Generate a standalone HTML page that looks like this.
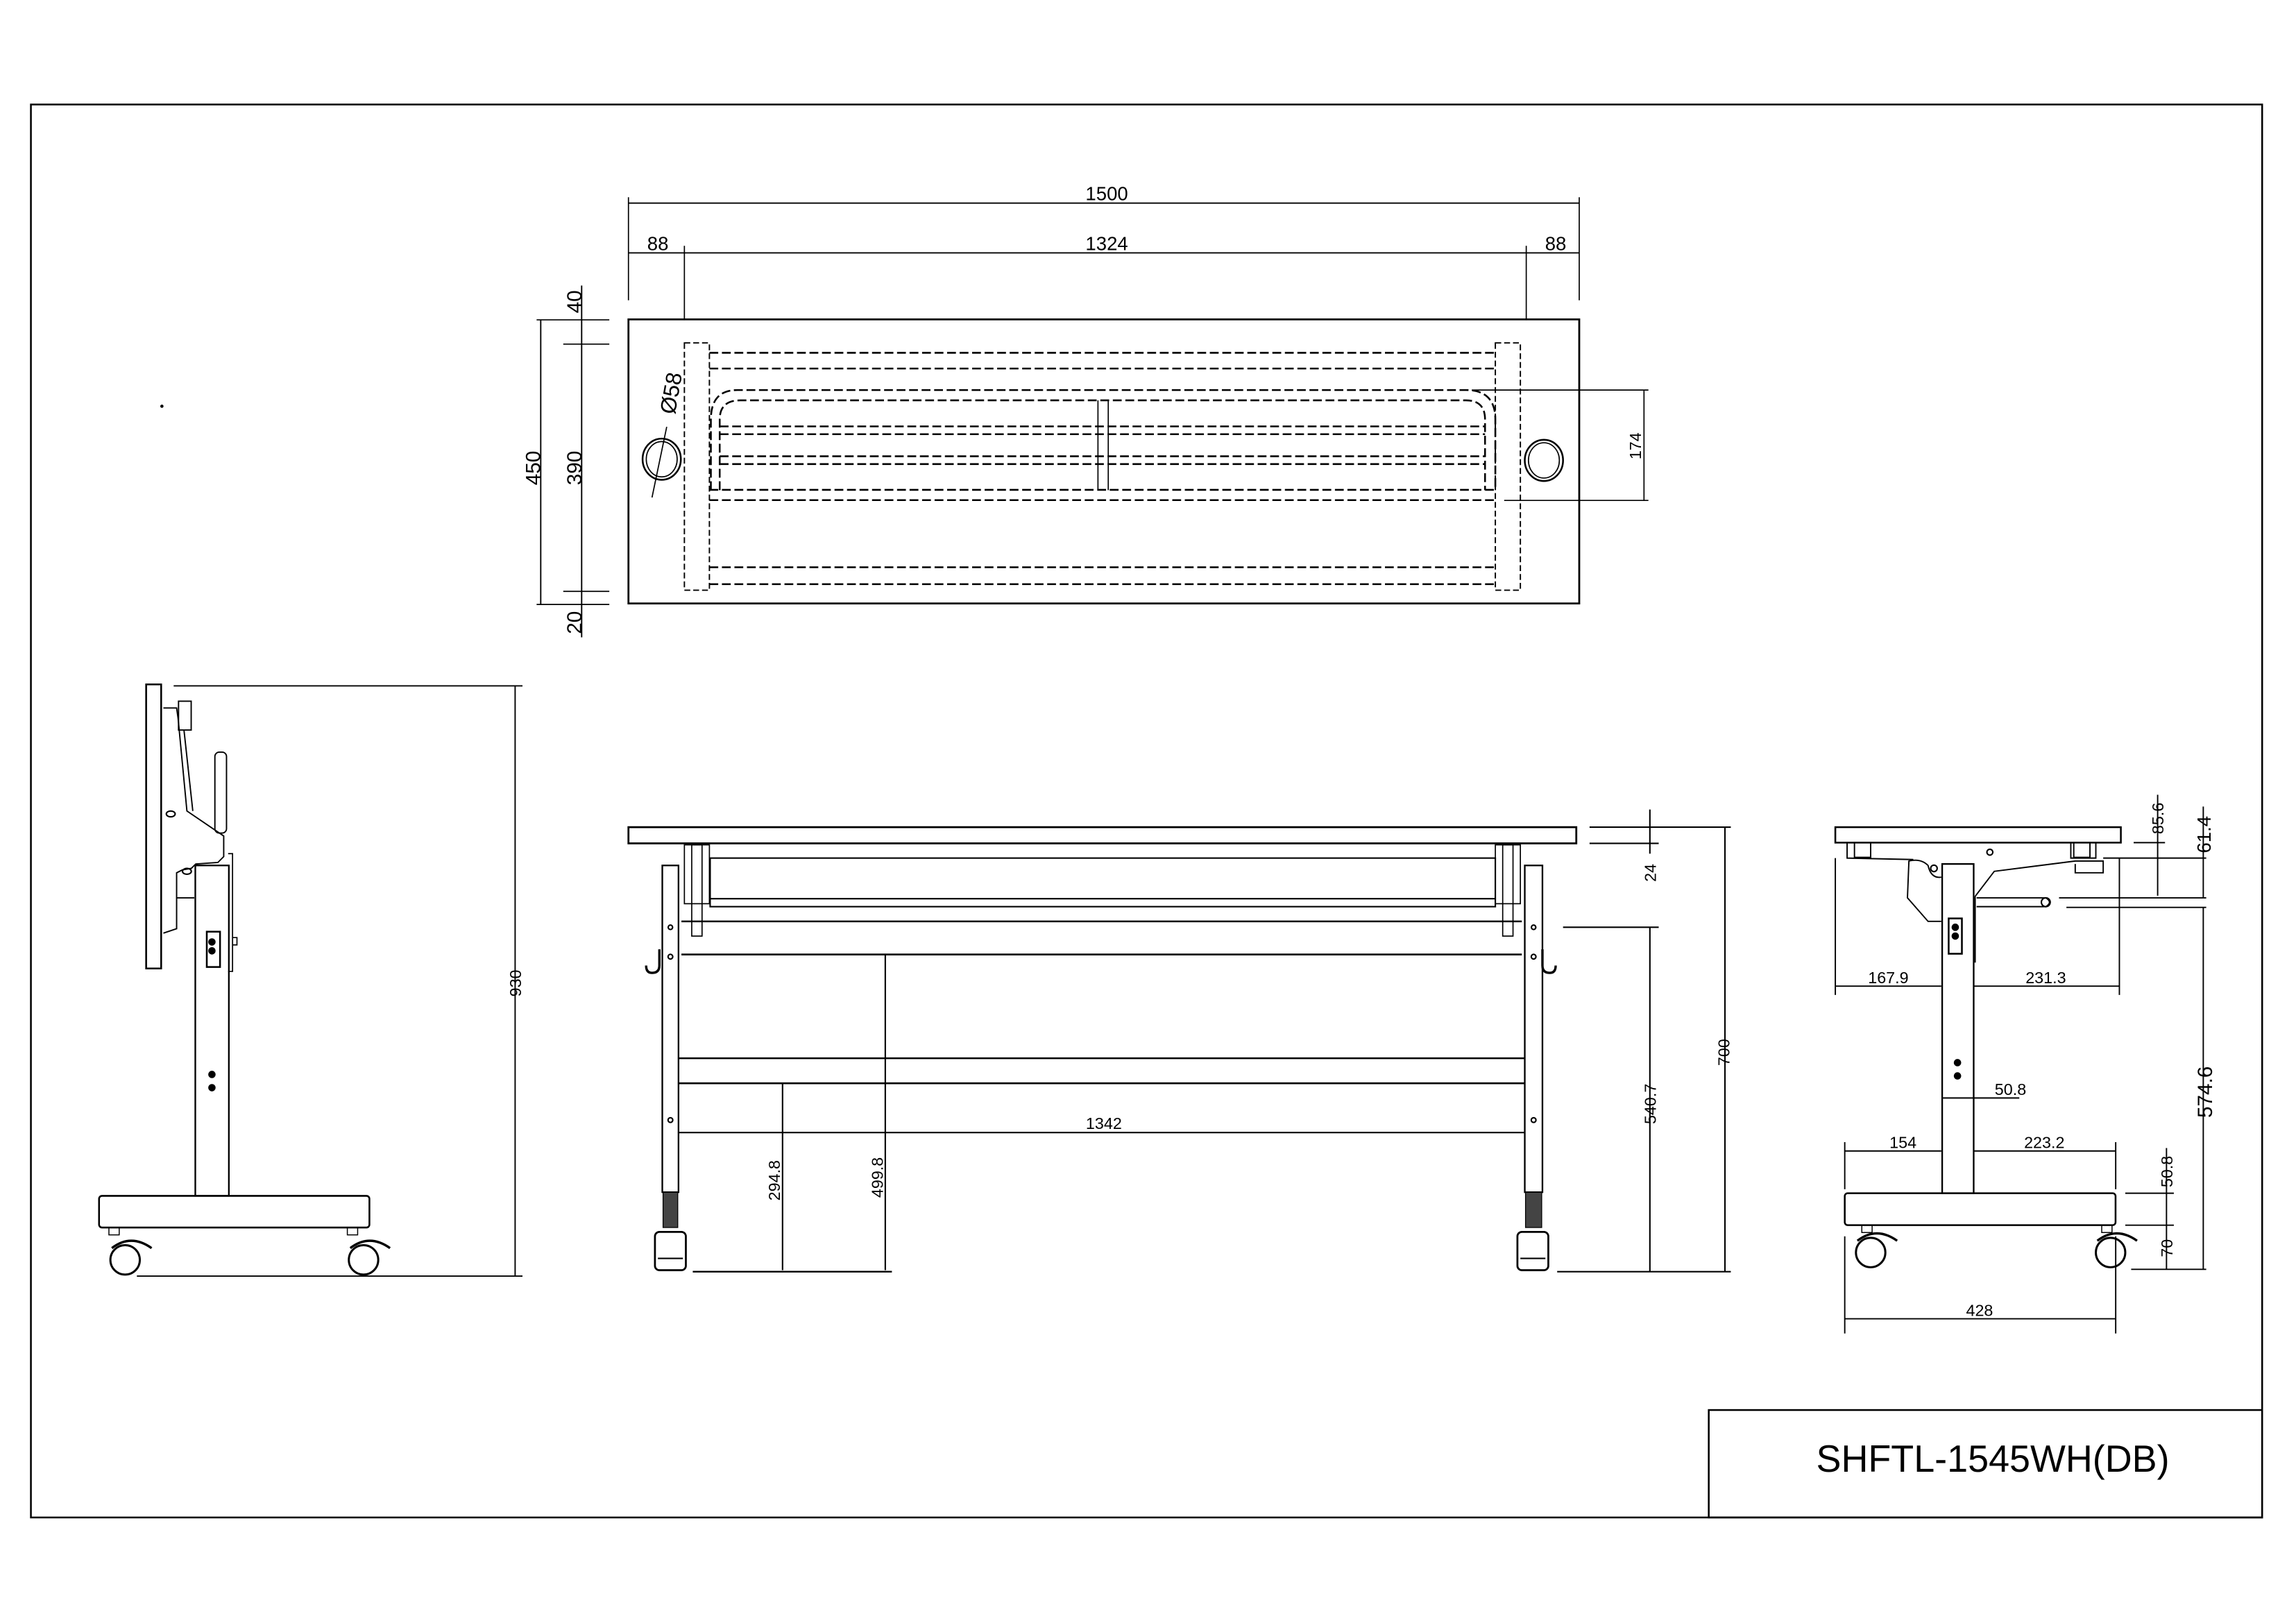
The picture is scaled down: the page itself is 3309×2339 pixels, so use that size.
<!DOCTYPE html>
<html><head><meta charset="utf-8"><style>html,body{margin:0;padding:0;background:#fff}svg{display:block}</style></head>
<body>
<svg width="3309" height="2339" viewBox="0 0 1560 1102.7" preserveAspectRatio="none" xmlns="http://www.w3.org/2000/svg" font-family="Liberation Sans, sans-serif">
<g fill="none" stroke="#000" stroke-width="1">
<!-- border -->
<rect x="21" y="71" width="1516" height="960" stroke-width="1.2"/>
<rect x="1161" y="958" width="376" height="73" stroke-width="1.2"/>

<!-- ===== TOP VIEW ===== -->
<rect x="427" y="217" width="646" height="193" stroke-width="1.3"/>
<g stroke-dasharray="4,2" stroke-width="0.9">
<rect x="465" y="233" width="17" height="168"/>
<rect x="1016" y="233" width="17" height="168"/>
</g>
<g stroke-dasharray="6,2.5" stroke-width="1.2">
<line x1="482" y1="239.7" x2="1016" y2="239.7"/>
<line x1="482" y1="250.4" x2="1016" y2="250.4"/>
<line x1="489" y1="289.7" x2="1009" y2="289.7"/>
<line x1="489" y1="295" x2="1009" y2="295"/>
<line x1="489" y1="310" x2="1009" y2="310"/>
<line x1="489" y1="315.3" x2="1009" y2="315.3"/>
<line x1="482" y1="332.8" x2="1016" y2="332.8"/>
<line x1="482" y1="339.8" x2="1016" y2="339.8"/>
<line x1="482" y1="385.4" x2="1016" y2="385.4"/>
<line x1="482" y1="396.9" x2="1016" y2="396.9"/>
<path d="M483,333 L483,285 Q483,265 501,265 L996,265 Q1016,265 1016,285 L1016,333"/>
<path d="M489,333 L489,285 Q489,272 503,272 L996,272 Q1009,272 1009,285 L1009,333"/>
</g>
<line x1="746" y1="272" x2="746" y2="333" stroke-width="0.8"/>
<line x1="753" y1="272" x2="753" y2="333" stroke-width="0.8"/>
<ellipse cx="449.6" cy="312" rx="13" ry="14" stroke-width="1.2"/>
<ellipse cx="449.6" cy="312" rx="10.5" ry="12" stroke-width="0.8"/>
<ellipse cx="1049" cy="312.8" rx="13" ry="14" stroke-width="1.2"/>
<ellipse cx="1049" cy="312.8" rx="10.5" ry="12" stroke-width="0.8"/>
<line x1="443" y1="338" x2="453" y2="290" stroke-width="0.8"/>
<!-- 174 -->
<line x1="1000" y1="265" x2="1120" y2="265" stroke-width="0.8"/>
<line x1="1022" y1="340" x2="1120" y2="340" stroke-width="0.8"/>
<line x1="1117" y1="265" x2="1117" y2="340" stroke-width="0.8"/>
<!-- top dims -->
<line x1="427" y1="134" x2="427" y2="204" stroke-width="0.8"/>
<line x1="1073" y1="134" x2="1073" y2="204" stroke-width="0.8"/>
<line x1="465" y1="167" x2="465" y2="217" stroke-width="0.8"/>
<line x1="1037" y1="167" x2="1037" y2="217" stroke-width="0.8"/>
<line x1="427" y1="138" x2="1073" y2="138" stroke-width="0.9"/>
<line x1="427" y1="171.8" x2="1073" y2="171.8" stroke-width="0.9"/>
<!-- left dims -->
<line x1="367.4" y1="217.3" x2="367.4" y2="410.7" stroke-width="0.9"/>
<line x1="395.2" y1="194" x2="395.2" y2="433" stroke-width="0.9"/>
<line x1="364.6" y1="217.3" x2="414" y2="217.3" stroke-width="0.8"/>
<line x1="382.7" y1="233.8" x2="414" y2="233.8" stroke-width="0.8"/>
<line x1="382.7" y1="401.8" x2="414" y2="401.8" stroke-width="0.8"/>
<line x1="364.6" y1="410.7" x2="414" y2="410.7" stroke-width="0.8"/>

<!-- ===== FRONT VIEW ===== -->
<rect x="427" y="562" width="644" height="11" stroke-width="1.3"/>
<rect x="482.5" y="583" width="533.5" height="33" stroke-width="1"/>
<line x1="482.5" y1="610.6" x2="1016" y2="610.6"/>
<line x1="463" y1="626" x2="1034" y2="626" stroke-width="1.2"/>
<line x1="463" y1="648.5" x2="1034" y2="648.5" stroke-width="1.2"/>
<!-- brackets -->
<g stroke-width="0.8">
<rect x="465" y="574" width="17" height="40"/><rect x="470" y="574" width="7" height="62"/>
<rect x="1016" y="574" width="17" height="40"/><rect x="1021" y="574" width="7" height="62"/>
</g>
<!-- legs -->
<rect x="450" y="588" width="11" height="222" stroke-width="1.1"/>
<rect x="1036" y="588" width="12" height="222" stroke-width="1.1"/>
<rect x="450.5" y="810" width="10" height="24" fill="#444" stroke-width="0.6"/>
<rect x="1036.5" y="810" width="11" height="24" fill="#444" stroke-width="0.6"/>
<rect x="445" y="837" width="21" height="26" rx="3" stroke-width="1.3"/>
<rect x="1031" y="837" width="21" height="26" rx="3" stroke-width="1.3"/>
<line x1="447" y1="855" x2="464" y2="855"/><line x1="1033" y1="855" x2="1050" y2="855"/>
<circle cx="455.5" cy="630" r="1.5"/><circle cx="455.5" cy="650" r="1.6"/><circle cx="455.5" cy="761" r="1.6"/>
<circle cx="1042" cy="630" r="1.5"/><circle cx="1042" cy="650" r="1.6"/><circle cx="1042" cy="761" r="1.6"/>
<path d="M448,645 L448,656 Q448,661 443,661 Q439,661 439,656" stroke-width="1.6"/>
<path d="M1048,645 L1048,656 Q1048,661 1053,661 Q1057,661 1057,656" stroke-width="1.6"/>
<!-- stretcher -->
<line x1="461" y1="719" x2="1036" y2="719" stroke-width="1.2"/>
<line x1="461" y1="736" x2="1036" y2="736" stroke-width="1.2"/>
<!-- front dims -->
<line x1="461" y1="769.5" x2="1036" y2="769.5" stroke-width="1"/>
<line x1="531.7" y1="736" x2="531.7" y2="863"/>
<line x1="601.5" y1="648.5" x2="601.5" y2="863"/>
<line x1="470.7" y1="864" x2="606" y2="864" stroke-width="1.1"/>
<line x1="1058" y1="864" x2="1176" y2="864" stroke-width="1"/>
<line x1="1062" y1="630" x2="1127" y2="630"/>
<line x1="1080" y1="562" x2="1176" y2="562"/>
<line x1="1080" y1="573" x2="1127" y2="573"/>
<line x1="1121" y1="550" x2="1121" y2="580"/>
<line x1="1121" y1="630" x2="1121" y2="864"/>
<line x1="1172" y1="562" x2="1172" y2="864"/>

<!-- ===== RIGHT SIDE VIEW ===== -->
<rect x="1247" y="562" width="194" height="10.5" stroke-width="1.2"/>
<path d="M1255,572.5 L1255,583 L1300,584 M1407,572.5 L1407,583 L1424,583 L1424,572.5" stroke-width="0.9"/>
<rect x="1260" y="572.5" width="11" height="10" stroke-width="0.9"/>
<rect x="1409" y="572.5" width="11" height="10" stroke-width="0.9"/>
<circle cx="1352" cy="579" r="2"/>
<rect x="1319.6" y="587" width="21.4" height="223.7" stroke-width="1.1"/>
<path d="M1319,626 L1310,626 L1296,610 L1297,585 Q1305,583 1310,588 Q1312,597 1319,596" stroke-width="0.9"/>
<circle cx="1314" cy="590" r="2.2"/>
<path d="M1342,609 L1355,592 L1410,585 L1429,585 L1429,593 L1410,593 L1410,587" stroke-width="0.9"/>
<path d="M1342,609 L1342,654 M1343,610 L1390,610 Q1395,613 1390,616 L1343,616" stroke-width="0.9"/>
<circle cx="1390" cy="613" r="3"/>
<rect x="1324" y="624" width="9" height="24" stroke-width="1.2"/>
<circle cx="1328.5" cy="630" r="2" fill="#000"/><circle cx="1328.5" cy="636" r="2" fill="#000"/>
<circle cx="1330" cy="722" r="2" fill="#000"/><circle cx="1330" cy="731" r="2" fill="#000"/>
<rect x="1253.4" y="810.7" width="184" height="21.7" rx="2" stroke-width="1.2"/>
<circle cx="1271" cy="851" r="10" stroke-width="1.4"/>
<circle cx="1434" cy="851" r="10" stroke-width="1.4"/>
<path d="M1262,843 Q1275,833 1289,843 M1425,843 Q1438,833 1452,843" stroke-width="1.6"/>
<rect x="1265" y="832.4" width="7" height="5" stroke-width="0.7"/><rect x="1428" y="832.4" width="7" height="5" stroke-width="0.7"/>
<!-- right dims -->
<g stroke-width="0.9">
<line x1="1247" y1="583" x2="1247" y2="676"/>
<line x1="1440" y1="583" x2="1440" y2="676"/>
<line x1="1247" y1="670" x2="1319" y2="670"/>
<line x1="1341" y1="670" x2="1440" y2="670"/>
<line x1="1320" y1="746" x2="1372" y2="746"/>
<line x1="1253.4" y1="776" x2="1253.4" y2="808"/>
<line x1="1437.5" y1="776" x2="1437.5" y2="808"/>
<line x1="1253.4" y1="782" x2="1319" y2="782"/>
<line x1="1341" y1="782" x2="1437.5" y2="782"/>
<line x1="1253.4" y1="840" x2="1253.4" y2="906"/>
<line x1="1437.5" y1="840" x2="1437.5" y2="906"/>
<line x1="1253.4" y1="896" x2="1437.5" y2="896"/>
<line x1="1449.7" y1="572.5" x2="1471" y2="572.5"/>
<line x1="1429" y1="583" x2="1499" y2="583"/>
<line x1="1399" y1="610" x2="1499" y2="610"/>
<line x1="1404" y1="616.5" x2="1499" y2="616.5"/>
<line x1="1444" y1="810.7" x2="1477" y2="810.7"/>
<line x1="1444" y1="832.4" x2="1477" y2="832.4"/>
<line x1="1448" y1="862.4" x2="1499" y2="862.4"/>
<line x1="1466" y1="540" x2="1466" y2="608.6"/>
<line x1="1497" y1="548" x2="1497" y2="610"/>
<line x1="1497" y1="616.5" x2="1497" y2="862.4"/>
<line x1="1472" y1="780" x2="1472" y2="862.4"/>
</g>

<!-- ===== LEFT SIDE VIEW ===== -->
<rect x="99.3" y="465" width="10.2" height="193" stroke-width="1.2"/>
<line x1="118" y1="466" x2="355" y2="466" stroke-width="0.9"/>
<line x1="93" y1="867" x2="355" y2="867" stroke-width="0.9"/>
<line x1="350" y1="466" x2="350" y2="867" stroke-width="0.9"/>
<rect x="132.7" y="588" width="22.8" height="224.5" stroke-width="1.1"/>
<path d="M111,481 L120,481 L121,488 L127,551 L152,568 L152,582 L148,586 L133,587 L130,590 L124,591 L120,593 L120,631 L111,634 M120,610 L132,610" stroke-width="0.9"/>
<rect x="121.3" y="476.4" width="8.6" height="19.6" stroke-width="0.9"/>
<path d="M125,496 L131,551" stroke-width="0.9"/>
<rect x="146" y="511" width="7.9" height="55" rx="3" stroke-width="0.9"/>
<path d="M155,580 L158,580 L158,660 L155,660 M158,637 L161,637 L161,642 L158,642" stroke-width="0.8"/>
<ellipse cx="116" cy="553" rx="3" ry="2"/><ellipse cx="127" cy="592" rx="3" ry="2"/>
<rect x="140.5" y="633" width="9" height="24" stroke-width="1.2"/>
<circle cx="144" cy="640" r="2" fill="#000"/><circle cx="144" cy="646" r="2" fill="#000"/>
<circle cx="144" cy="730" r="2" fill="#000"/><circle cx="144" cy="739" r="2" fill="#000"/>
<rect x="67.3" y="812.5" width="183.7" height="21.5" rx="2" stroke-width="1.2"/>
<circle cx="85" cy="856" r="10" stroke-width="1.4"/>
<circle cx="247" cy="856" r="10" stroke-width="1.4"/>
<path d="M76,848 Q89,838 103,848 M238,848 Q251,838 265,848" stroke-width="1.6"/>
<rect x="74" y="834" width="7" height="5" stroke-width="0.7"/><rect x="236" y="834" width="7" height="5" stroke-width="0.7"/>
<circle cx="110" cy="276" r="0.6" fill="#000"/>
</g>

<g fill="#000" font-size="13" text-anchor="middle">
<text x="752" y="136">1500</text>
<text x="447" y="170">88</text>
<text x="752" y="170">1324</text>
<text x="1057" y="170">88</text>
<text transform="translate(367,318) rotate(-90)" font-size="14">450</text>
<text transform="translate(395,318) rotate(-90)" font-size="14">390</text>
<text transform="translate(395,205) rotate(-90)" font-size="14">40</text>
<text transform="translate(395,423) rotate(-90)" font-size="14">20</text>
<text transform="translate(461,268) rotate(-80)" font-size="15">Ø58</text>
<text transform="translate(1115,303) rotate(-90)" font-size="11">174</text>
<text x="750" y="767" font-size="11">1342</text>
<text transform="translate(530,802) rotate(-90)" font-size="11">294.8</text>
<text transform="translate(600,800) rotate(-90)" font-size="11">499.8</text>
<text transform="translate(1125,593) rotate(-90)" font-size="11">24</text>
<text transform="translate(1125,750) rotate(-90)" font-size="11">540.7</text>
<text transform="translate(1175,715) rotate(-90)" font-size="11">700</text>
<text transform="translate(354,668) rotate(-90)" font-size="11">930</text>
<text x="1283" y="668" font-size="11">167.9</text>
<text x="1390" y="668" font-size="11">231.3</text>
<text x="1366" y="744" font-size="11">50.8</text>
<text x="1293" y="780" font-size="11">154</text>
<text x="1389" y="780" font-size="11">223.2</text>
<text x="1345" y="894" font-size="11">428</text>
<text transform="translate(1470,556) rotate(-90)" font-size="11">85.6</text>
<text transform="translate(1502,567) rotate(-90)" font-size="13">61.4</text>
<text transform="translate(1503,742) rotate(-90)" font-size="14">574.6</text>
<text transform="translate(1476,796) rotate(-90)" font-size="11">50.8</text>
<text transform="translate(1476,848) rotate(-90)" font-size="11">70</text>
<text x="1354" y="1000" font-size="26" textLength="240" lengthAdjust="spacingAndGlyphs">SHFTL-1545WH(DB)</text>
</g>
</svg>
</body></html>
